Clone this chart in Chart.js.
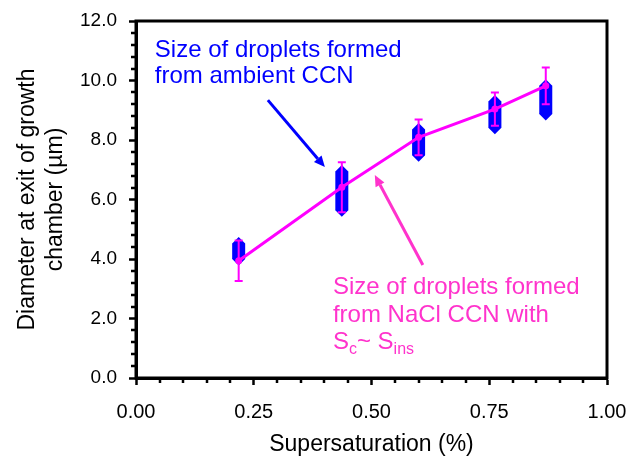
<!DOCTYPE html>
<html>
<head>
<meta charset="utf-8">
<script src="https://cdn.jsdelivr.net/npm/chart.js@4.4.1/dist/chart.umd.min.js"></script>
<style>
  html, body { margin: 0; padding: 0; background: #fff; }
  #grafica { display: block; }
</style>
</head>
<body>
<canvas id="grafica" width="630" height="456"></canvas>
<script>
// Supersaturacion (%) de cada medida
const supersat = [0.218, 0.437, 0.60, 0.762, 0.87];

// Gotas de CCN ambiente: rango de valores en cada columna (um)
const ambienteMin = [4.00, 5.64, 7.49, 8.41, 8.87];
const ambienteMax = [4.52, 6.94, 8.35, 9.29, 9.82];

// Gotas de CCN de NaCl: media y error (um)
const nacl = [3.94, 6.41, 8.09, 9.04, 9.82];
const naclErr = [0.68, 0.84, 0.60, 0.56, 0.62];

// Ejes
const xMin = 0, xMax = 1, xPaso = 0.25, xMenor = 0.05;
const yMin = 0, yMax = 12, yPaso = 2, yMenor = 0.4;

const fuente = '"Liberation Sans", Arial, sans-serif';
const azul = '#0000ff';
const magenta = '#ff00ff';
const rosa = '#ff33cc';

// columnas: min -> max, con un hueco entre columnas
const columnasAmbiente = [];
supersat.forEach((s, i) => {
  columnasAmbiente.push({ x: s, y: ambienteMin[i] });
  columnasAmbiente.push({ x: s, y: ambienteMax[i] });
  columnasAmbiente.push({ x: s, y: null });
});
const puntosNacl = supersat.map((s, i) => ({ x: s, y: nacl[i] }));

// === Barras de error ===
const barrasError = {
  id: 'barrasError',
  afterDatasetsDraw(chart) {
    const { ctx, scales: { x, y } } = chart;
    ctx.save();
    ctx.strokeStyle = magenta;
    ctx.lineWidth = 2;
    supersat.forEach((s, i) => {
      const px = x.getPixelForValue(s);
      const arriba = y.getPixelForValue(nacl[i] + naclErr[i]);
      const abajo = y.getPixelForValue(nacl[i] - naclErr[i]);
      ctx.beginPath();
      ctx.moveTo(px, arriba); ctx.lineTo(px, abajo);
      ctx.moveTo(px - 4, arriba); ctx.lineTo(px + 4, arriba);
      ctx.moveTo(px - 4, abajo); ctx.lineTo(px + 4, abajo);
      ctx.stroke();
    });
    ctx.restore();
  }
};

// === Marco, marcas menores y anotaciones ===
function flecha(ctx, x1, y1, x2, y2, color) {
  const ang = Math.atan2(y2 - y1, x2 - x1);
  const largo = 11, ancho = 5;
  ctx.strokeStyle = color;
  ctx.fillStyle = color;
  ctx.lineWidth = 3;
  ctx.beginPath();
  ctx.moveTo(x1, y1);
  ctx.lineTo(x2 - Math.cos(ang) * largo, y2 - Math.sin(ang) * largo);
  ctx.stroke();
  ctx.beginPath();
  ctx.moveTo(x2, y2);
  ctx.lineTo(x2 - Math.cos(ang) * largo - Math.sin(ang) * ancho, y2 - Math.sin(ang) * largo + Math.cos(ang) * ancho);
  ctx.lineTo(x2 - Math.cos(ang) * largo + Math.sin(ang) * ancho, y2 - Math.sin(ang) * largo - Math.cos(ang) * ancho);
  ctx.closePath();
  ctx.fill();
}

const extras = {
  id: 'extras',
  afterDraw(chart) {
    const { ctx, chartArea: a, scales: { x, y } } = chart;
    ctx.save();
    // marco
    ctx.strokeStyle = '#000';
    ctx.lineWidth = 3;
    ctx.strokeRect(a.left, a.top, a.right - a.left, a.bottom - a.top);
    // marcas menores
    ctx.lineWidth = 2.5;
    ctx.beginPath();
    for (let v = xMin + xMenor; v < xMax - 1e-6; v += xMenor) {
      if (Math.abs(v / xPaso - Math.round(v / xPaso)) < 1e-6) continue;
      const px = Math.round(x.getPixelForValue(v));
      ctx.moveTo(px, a.bottom); ctx.lineTo(px, a.bottom + 5);
    }
    for (let v = yMin + yMenor; v < yMax - 1e-6; v += yMenor) {
      if (Math.abs(v / yPaso - Math.round(v / yPaso)) < 1e-6) continue;
      const py = Math.round(y.getPixelForValue(v));
      ctx.moveTo(a.left, py); ctx.lineTo(a.left - 5, py);
    }
    ctx.stroke();

    // texto azul
    ctx.font = '24px ' + fuente;
    ctx.textBaseline = 'alphabetic';
    ctx.textAlign = 'left';
    ctx.fillStyle = azul;
    ctx.fillText('Size of droplets formed', x.getPixelForValue(0.040), y.getPixelForValue(10.80));
    ctx.fillText('from ambient CCN', x.getPixelForValue(0.040), y.getPixelForValue(9.92));
    flecha(ctx, x.getPixelForValue(0.280), y.getPixelForValue(9.34),
                x.getPixelForValue(0.401), y.getPixelForValue(7.09), azul);

    // texto rosa
    ctx.fillStyle = rosa;
    const tx = x.getPixelForValue(0.418);
    ctx.fillText('Size of droplets formed', tx, y.getPixelForValue(2.82));
    ctx.fillText('from NaCl CCN with', tx, y.getPixelForValue(1.88));
    const by = y.getPixelForValue(0.97);
    let cx = tx;
    ctx.font = '24px ' + fuente;
    ctx.fillText('S', cx, by); cx += ctx.measureText('S').width;
    ctx.font = '16px ' + fuente;
    ctx.fillText('c', cx, by + 5); cx += ctx.measureText('c').width;
    ctx.font = '24px ' + fuente;
    ctx.fillText('~ S', cx, by); cx += ctx.measureText('~ S').width;
    ctx.font = '16px ' + fuente;
    ctx.fillText('ins', cx, by + 5);
    flecha(ctx, x.getPixelForValue(0.609), y.getPixelForValue(3.80),
                x.getPixelForValue(0.507), y.getPixelForValue(6.82), rosa);
    ctx.restore();
  }
};

new Chart(document.getElementById('grafica').getContext('2d'), {
  type: 'scatter',
  data: {
    datasets: [
      {
        type: 'line',
        label: 'NaCl CCN',
        data: puntosNacl,
        borderColor: magenta,
        backgroundColor: magenta,
        borderWidth: 3,
        pointRadius: 3.5,
        pointBackgroundColor: magenta,
        pointBorderWidth: 0,
        tension: 0,
        fill: false
      },
      {
        type: 'line',
        label: 'Ambient CCN',
        data: columnasAmbiente,
        spanGaps: false,
        borderColor: azul,
        borderWidth: 13,
        borderCapStyle: 'butt',
        pointStyle: 'rectRot',
        pointRadius: 6.5,
        pointBackgroundColor: azul,
        pointBorderWidth: 0,
        tension: 0,
        fill: false
      }
    ]
  },
  options: {
    responsive: false,
    animation: false,
    layout: { padding: { top: 21, right: 23, left: 0, bottom: 0 } },
    plugins: { legend: { display: false }, tooltip: { enabled: false } },
    scales: {
      x: {
        type: 'linear',
        min: xMin, max: xMax,
        ticks: {
          stepSize: xPaso,
          callback: v => v.toFixed(2),
          color: '#000',
          font: { family: fuente, size: 20 },
          padding: 15,
          maxRotation: 0
        },
        grid: { drawOnChartArea: false, tickLength: 7, tickWidth: 2.5, tickColor: '#000' },
        border: { color: '#000', width: 3 },
        title: {
          display: true,
          text: 'Supersaturation (%)',
          color: '#000',
          font: { family: fuente, size: 23 },
          padding: { top: 0, bottom: -2 }
        },
        afterFit: s => { s.height = 78; s.paddingRight = 0; s.paddingLeft = 0; }
      },
      y: {
        type: 'linear',
        min: yMin, max: yMax,
        ticks: {
          stepSize: yPaso,
          callback: v => v.toFixed(1),
          color: '#000',
          font: { family: fuente, size: 19 },
          padding: 12
        },
        grid: { drawOnChartArea: false, tickLength: 7, tickWidth: 2.5, tickColor: '#000' },
        border: { color: '#000', width: 3 },
        title: {
          display: true,
          text: ['Diameter at exit of growth', 'chamber (\u00b5m)'],
          color: '#000',
          font: { family: fuente, size: 23 },
          padding: { top: 14, bottom: 0 }
        },
        afterFit: s => { s.width = 136; s.paddingTop = 0; s.paddingBottom = 0; }
      }
    }
  },
  plugins: [barrasError, extras]
});
</script>
</body>
</html>
